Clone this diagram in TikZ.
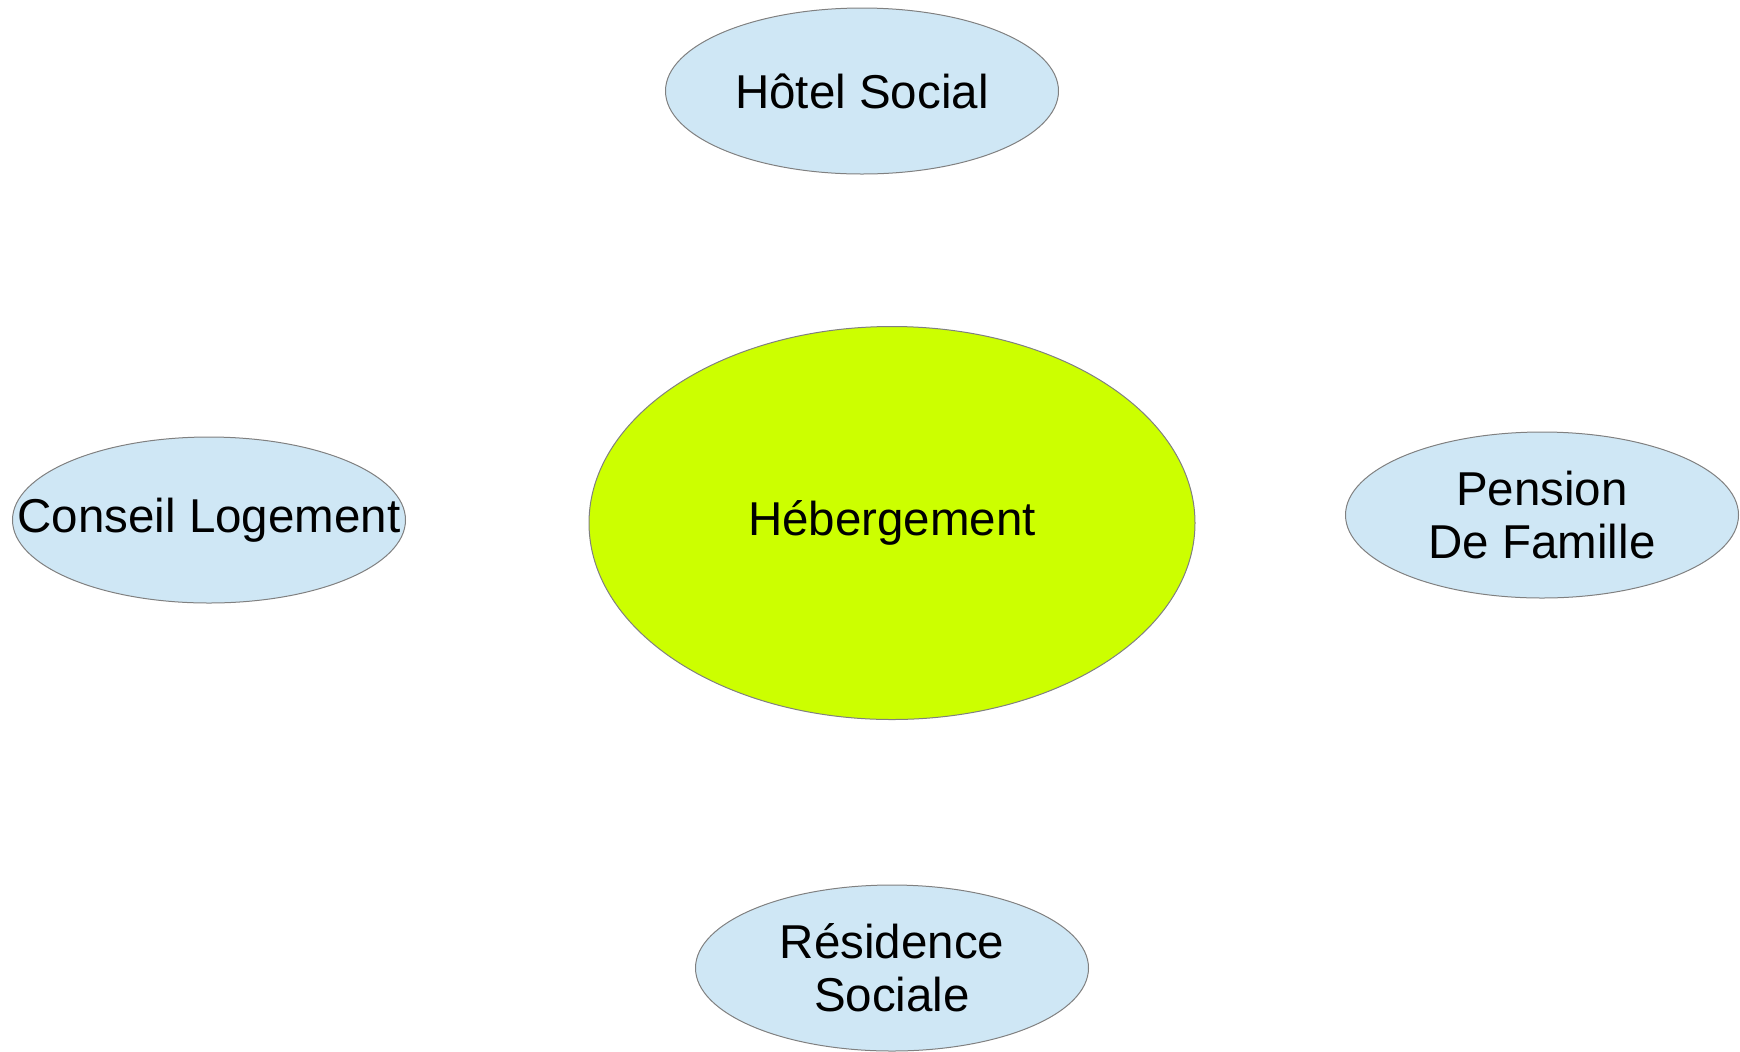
\documentclass[tikz,border=0pt]{standalone}
\usepackage{fontspec}
\setmainfont{Liberation Sans}
\usetikzlibrary{shapes.geometric}

\definecolor{paleBlue}{HTML}{CFE7F5}
\definecolor{limeGreen}{HTML}{CCFF00}
\definecolor{edgeGray}{HTML}{808080}

\begin{document}
\begin{tikzpicture}[x=0.5pt,y=-0.5pt,
        font=\fontsize{23.75}{26.5}\selectfont,
        blueNode/.style = {shape=ellipse,draw=edgeGray,line width=0.5pt,fill=paleBlue,inner sep=0pt,
            minimum width=196.5pt,minimum height=83pt,align=center},
        centerNode/.style = {shape=ellipse,draw=edgeGray,line width=0.5pt,fill=limeGreen,inner sep=0pt,
            minimum width=303pt,minimum height=196.5pt,align=center}
        ]
        \useasboundingbox (0,0) rectangle (1740,1051);
        \node[centerNode] (heberg) at (892,523) {Hébergement};
        \node[blueNode] (hotel) at (862,91) {Hôtel Social};
        \node[blueNode,inner xsep=-32pt] (conseil) at (209,520) {Conseil Logement}; % text wider than the ellipse
        \node[blueNode] (pension) at (1542,515) {Pension\\De Famille};
        \node[blueNode] (residence) at (892,968) {Résidence\\Sociale};
    \end{tikzpicture}
\end{document}
